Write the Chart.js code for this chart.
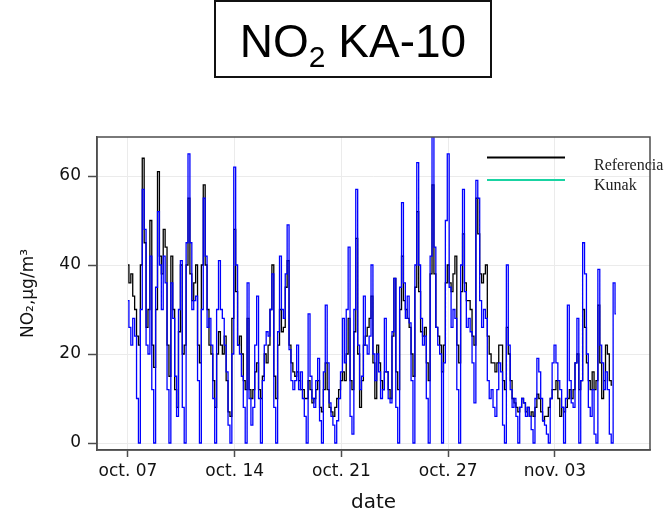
<!DOCTYPE html>
<html>
<head>
<meta charset="utf-8">
<script src="https://cdn.jsdelivr.net/npm/chart.js@4.4.1/dist/chart.umd.min.js"></script>
<style>
  html, body { margin: 0; padding: 0; background: #fff; }
  #wrap { position: relative; width: 666px; height: 519px; }
  canvas { position: absolute; left: 0; top: 0; }
  #titleBox {
    position: absolute; left: 214px; top: 0; width: 278px; height: 78px;
    box-sizing: border-box; border: 2px solid #111; text-align: center;
    font-family: "Liberation Sans", Arial, sans-serif; font-size: 46px;
    line-height: 46px; padding-top: 16px; color: #000;
  }
  #titleBox sub { font-size: 30px; vertical-align: -10px; line-height: 0; }
</style>
</head>
<body>
<div id="wrap">
  <canvas id="no2Chart" width="666" height="519"></canvas>
  <div id="titleBox">NO<sub>2</sub> KA-10</div>
</div>
<script>
// Dades: una lectura cada 3 hores des del 7 d'octubre
const stepHours = 3;
const tickDays = [0, 7, 14, 21, 28];
const tickLabels = ['oct. 07', 'oct. 14', 'oct. 21', 'oct. 27', 'nov. 03'];
const yTicks = [0, 20, 40, 60];
const seriesNames = ['Referencia', 'Kunak'];

const referencia = [
  40,36,38,33,30,24,22,40,  64,45,26,30,50,22,17,30,  61,42,38,48,44,22,15,42,
  30,12,8,25,40,20,22,40,   55,38,32,36,40,22,18,40,  58,40,30,22,20,14,8,20,
  25,22,20,24,14,7,6,28,    48,34,22,24,20,14,12,28,  12,10,12,16,18,12,10,15,
  20,18,22,30,40,15,10,22,  30,25,26,35,41,22,18,16,  15,16,14,12,12,10,10,14,
  12,9,10,12,14,8,7,12,     18,12,8,7,6,8,10,12,      14,16,14,20,28,14,12,25,
  46,20,8,14,22,24,26,28,   33,18,10,22,18,14,12,16,  16,12,10,24,37,16,12,30,
  42,32,30,28,26,20,15,35,  52,34,25,24,26,18,14,38,  58,38,26,24,22,16,22,36,
  40,36,34,38,42,22,18,34,  47,36,32,32,30,24,22,55,  47,38,36,38,40,24,20,18,
  18,16,18,22,22,14,12,26,  20,14,10,9,8,7,8,10,      9,7,8,6,7,6,8,11,
  10,7,5,6,6,8,10,12,       12,14,10,6,8,7,8,10,      12,10,12,18,20,12,14,30,
  26,18,14,12,16,12,14,31,  18,10,14,22,20,14,13,null, null
];

const kunak = [
  32,26,22,28,24,10,0,30,   57,48,22,20,42,12,0,35,   52,40,30,42,36,12,0,36,
  28,15,6,30,41,8,0,45,     65,45,30,32,33,14,0,30,   55,42,26,28,22,10,0,30,
  41,30,28,22,16,4,0,20,    62,40,22,20,15,8,0,36,    10,4,8,22,33,10,0,14,
  22,25,24,30,38,8,0,25,    42,30,28,38,49,21,14,12,  14,22,12,16,10,6,0,29,
  15,10,8,14,19,5,0,16,     31,18,9,6,4,0,5,10,       16,28,18,30,44,6,2,30,
  57,22,12,15,33,22,20,24,  40,20,14,20,16,10,12,28,  16,10,9,25,37,8,0,35,
  54,36,28,33,27,14,0,40,   63,40,28,22,24,10,0,42,   69,44,26,22,20,0,18,50,
  65,35,26,30,28,12,0,40,   57,34,26,28,25,18,9,59,   55,32,26,30,28,14,10,12,
  8,6,12,18,16,4,0,40,      22,12,8,10,6,0,8,10,      9,6,8,6,3,0,10,19,
  16,10,5,4,2,0,10,18,      22,18,14,12,8,0,10,31,    14,9,8,18,28,0,14,45,
  38,20,8,6,12,2,0,39,      22,18,12,16,12,2,0,36,    29
];

// Temps en dies des de l'inici
const days = kunak.map((_, i) => i * stepHours / 24);

const axisFont = { family: 'DejaVu Sans', size: 17 };
const textColor = '#111111';

// Marc del panell i llegenda
const frameAndKey = {
  id: 'frameAndKey',
  afterDraw(chart) {
    const { ctx, chartArea: a } = chart;
    ctx.save();
    const keys = [
      { color: '#000000', y: a.top + 20.5, textY: a.top + 33 },
      { color: '#19d3a2', y: a.top + 43, textY: a.top + 53 }
    ];
    ctx.lineWidth = 2;
    ctx.font = '16px "Liberation Serif"';
    ctx.fillStyle = '#222';
    ctx.textBaseline = 'alphabetic';
    keys.forEach((k, i) => {
      ctx.strokeStyle = k.color;
      ctx.beginPath();
      ctx.moveTo(a.right - 163, k.y);
      ctx.lineTo(a.right - 85, k.y);
      ctx.stroke();
      ctx.fillText(seriesNames[i], a.right - 56, k.textY);
    });
    ctx.strokeStyle = '#4d4d4d';
    ctx.lineWidth = 1.5;
    ctx.strokeRect(a.left, a.top, a.right - a.left, a.bottom - a.top);
    ctx.restore();
  }
};

const ctx = document.getElementById('no2Chart').getContext('2d');
new Chart(ctx, {
  type: 'line',
  data: {
    datasets: [
      {
        label: seriesNames[1],
        data: days.map((d, i) => ({ x: d, y: kunak[i] })),
        borderColor: '#0000ff',
        borderWidth: 1.3,
        pointRadius: 0,
        stepped: 'middle',
        order: 0
      },
      {
        label: seriesNames[0],
        data: days.map((d, i) => ({ x: d, y: referencia[i] })),
        borderColor: '#000000',
        borderWidth: 1.3,
        pointRadius: 0,
        stepped: 'middle',
        order: 1
      }
    ]
  },
  options: {
    responsive: false,
    animation: false,
    layout: { padding: { top: 137, right: 16, left: 0, bottom: 0 } },
    scales: {
      x: {
        type: 'linear',
        min: -2.03,
        max: 34.23,
        afterBuildTicks: s => { s.ticks = tickDays.map(v => ({ value: v })); },
        afterFit: s => { s.height = 69; },
        grid: { color: '#ebebeb', lineWidth: 1, tickLength: 7, tickColor: '#4d4d4d', tickWidth: 1.5 },
        border: { display: true, color: '#4d4d4d', width: 1.5 },
        ticks: {
          callback: v => tickLabels[tickDays.indexOf(v)],
          font: axisFont, color: textColor, padding: 4, maxRotation: 0, autoSkip: false
        },
        title: {
          display: true, text: 'date',
          font: { family: 'DejaVu Sans', size: 20 }, color: textColor,
          padding: { top: 0, bottom: 4 }
        }
      },
      y: {
        min: -1.57,
        max: 68.77,
        afterBuildTicks: s => { s.ticks = yTicks.map(v => ({ value: v })); },
        afterFit: s => { s.width = 97; },
        grid: { color: '#ebebeb', lineWidth: 1, tickLength: 9, tickColor: '#4d4d4d', tickWidth: 1.5 },
        border: { display: true, color: '#4d4d4d', width: 1.5 },
        ticks: { font: axisFont, color: textColor, padding: 7 },
        title: {
          display: true, text: 'NO₂,µg/m³',
          font: axisFont, color: textColor,
          padding: { top: 18, bottom: 0 }
        }
      }
    },
    plugins: {
      legend: { display: false },
      tooltip: { enabled: false }
    }
  },
  plugins: [frameAndKey]
});
</script>
</body>
</html>
